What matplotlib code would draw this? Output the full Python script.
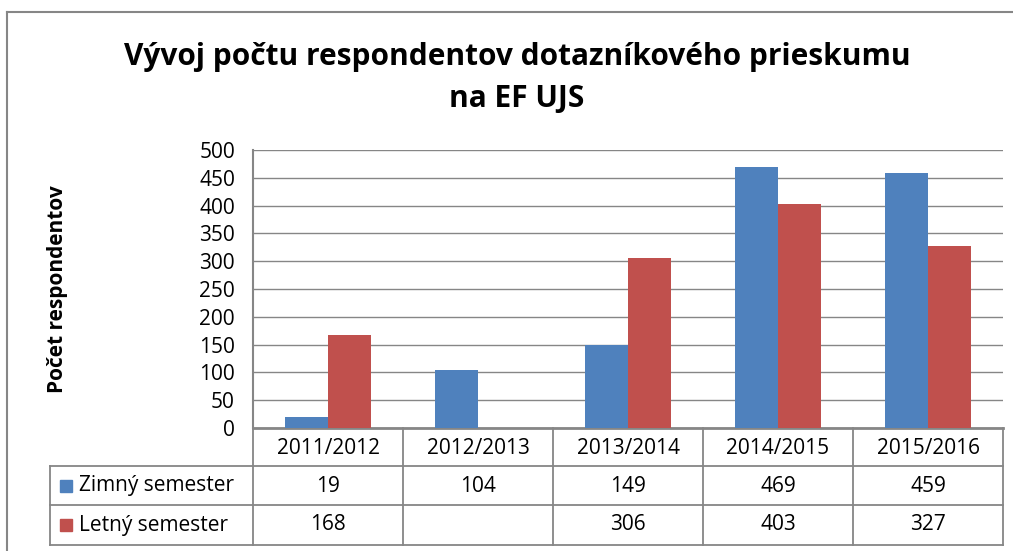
import matplotlib
matplotlib.use("Agg")
import matplotlib.pyplot as plt
import matplotlib.transforms as mtransforms
from matplotlib.lines import Line2D
from matplotlib.patches import Rectangle
import numpy as np

plt.rcParams['font.family'] = ['Open Sans', 'DejaVu Sans']

# ---- data ----
categories = ["2011/2012", "2012/2013", "2013/2014", "2014/2015", "2015/2016"]
series_names = ["Zimný semester", "Letný semester"]
zimny = [19, 104, 149, 469, 459]
letny = [168, None, 306, 403, 327]
yticks = [0, 50, 100, 150, 200, 250, 300, 350, 400, 450, 500]
title = "Vývoj počtu respondentov dotazníkového prieskumu\nna EF UJS"
ylabel = "Počet respondentov"

colors = ["#4F81BD", "#C0504D"]
grid_col = "#868686"

W, H = 1013, 551
fig = plt.figure(figsize=(W / 100, H / 100), dpi=100)

def fx(px):
    return px / W

def fy(py):
    return 1 - py / H

ax = fig.add_axes([fx(253), fy(428), fx(1003) - fx(253), fy(150) - fy(428)])
x = np.arange(len(categories))
bw = 0.285
ax.bar(x - bw / 2, zimny, bw, color=colors[0], zorder=3)
ax.bar(x + bw / 2, [v if v is not None else 0 for v in letny], bw, color=colors[1], zorder=3)
ax.set_xlim(-0.5, len(categories) - 0.5)
ax.set_ylim(0, 500)
ax.set_yticks(yticks)
ax.set_yticklabels([str(t) for t in yticks], fontsize=15)
ax.tick_params(axis='y', length=0, pad=13)
ax.set_xticks([])
ax.grid(axis='y', color=grid_col, linewidth=1.0, zorder=0)
for s in ['top', 'right']:
    ax.spines[s].set_visible(False)
ax.spines['left'].set_color(grid_col)
ax.spines['left'].set_linewidth(1.5)
ax.spines['bottom'].set_color(grid_col)
ax.spines['bottom'].set_linewidth(2.0)

fig.text(fx(58), fy(289), ylabel, rotation=90, fontsize=15, fontweight='bold',
         ha='center', va='center')

fig.text(fx(517), fy(78), title, ha='center', va='center', fontsize=21.5,
         fontweight='bold', linespacing=1.55)

# ---- data table ----
tr = mtransforms.blended_transform_factory(ax.transData, fig.transFigure)
row_lines = [fy(466), fy(505), fy(545)]
top_y = fy(428)
xleft_fig = fx(50)
lw = 1.3
for yy in row_lines:
    fig.add_artist(Line2D([xleft_fig, fx(1003)], [yy, yy], transform=fig.transFigure,
                          color=grid_col, linewidth=lw))
for b in np.arange(len(categories) + 1) - 0.5:
    fig.add_artist(Line2D([b, b], [top_y, row_lines[-1]], transform=tr,
                          color=grid_col, linewidth=lw))
fig.add_artist(Line2D([xleft_fig, xleft_fig], [row_lines[0], row_lines[-1]],
                      transform=fig.transFigure, color=grid_col, linewidth=lw))

fs_tab = 15
hdr_y = fy(448)
r1_y = fy(486)
r2_y = fy(525)
for i, c in enumerate(categories):
    fig.text(i, hdr_y, c, transform=tr, ha='center', va='center', fontsize=fs_tab)
    fig.text(i, r1_y, str(zimny[i]), transform=tr, ha='center', va='center', fontsize=fs_tab)
    if letny[i] is not None:
        fig.text(i, r2_y, str(letny[i]), transform=tr, ha='center', va='center', fontsize=fs_tab)

for name, col, yy in zip(series_names, colors, [r1_y, r2_y]):
    fig.add_artist(Rectangle((fx(60), yy - 6 / H), 12 / W, 12 / H,
                             transform=fig.transFigure, color=col))
    fig.text(fx(79), yy, name, ha='left', va='center', fontsize=fs_tab)

# outer chart border
fig.add_artist(Line2D([fx(7), 1.0], [fy(12), fy(12)], transform=fig.transFigure,
                      color=grid_col, linewidth=1.5))
fig.add_artist(Line2D([fx(7), fx(7)], [fy(12), 0.0], transform=fig.transFigure,
                      color=grid_col, linewidth=1.5))

fig.savefig("out.png", dpi=100)
